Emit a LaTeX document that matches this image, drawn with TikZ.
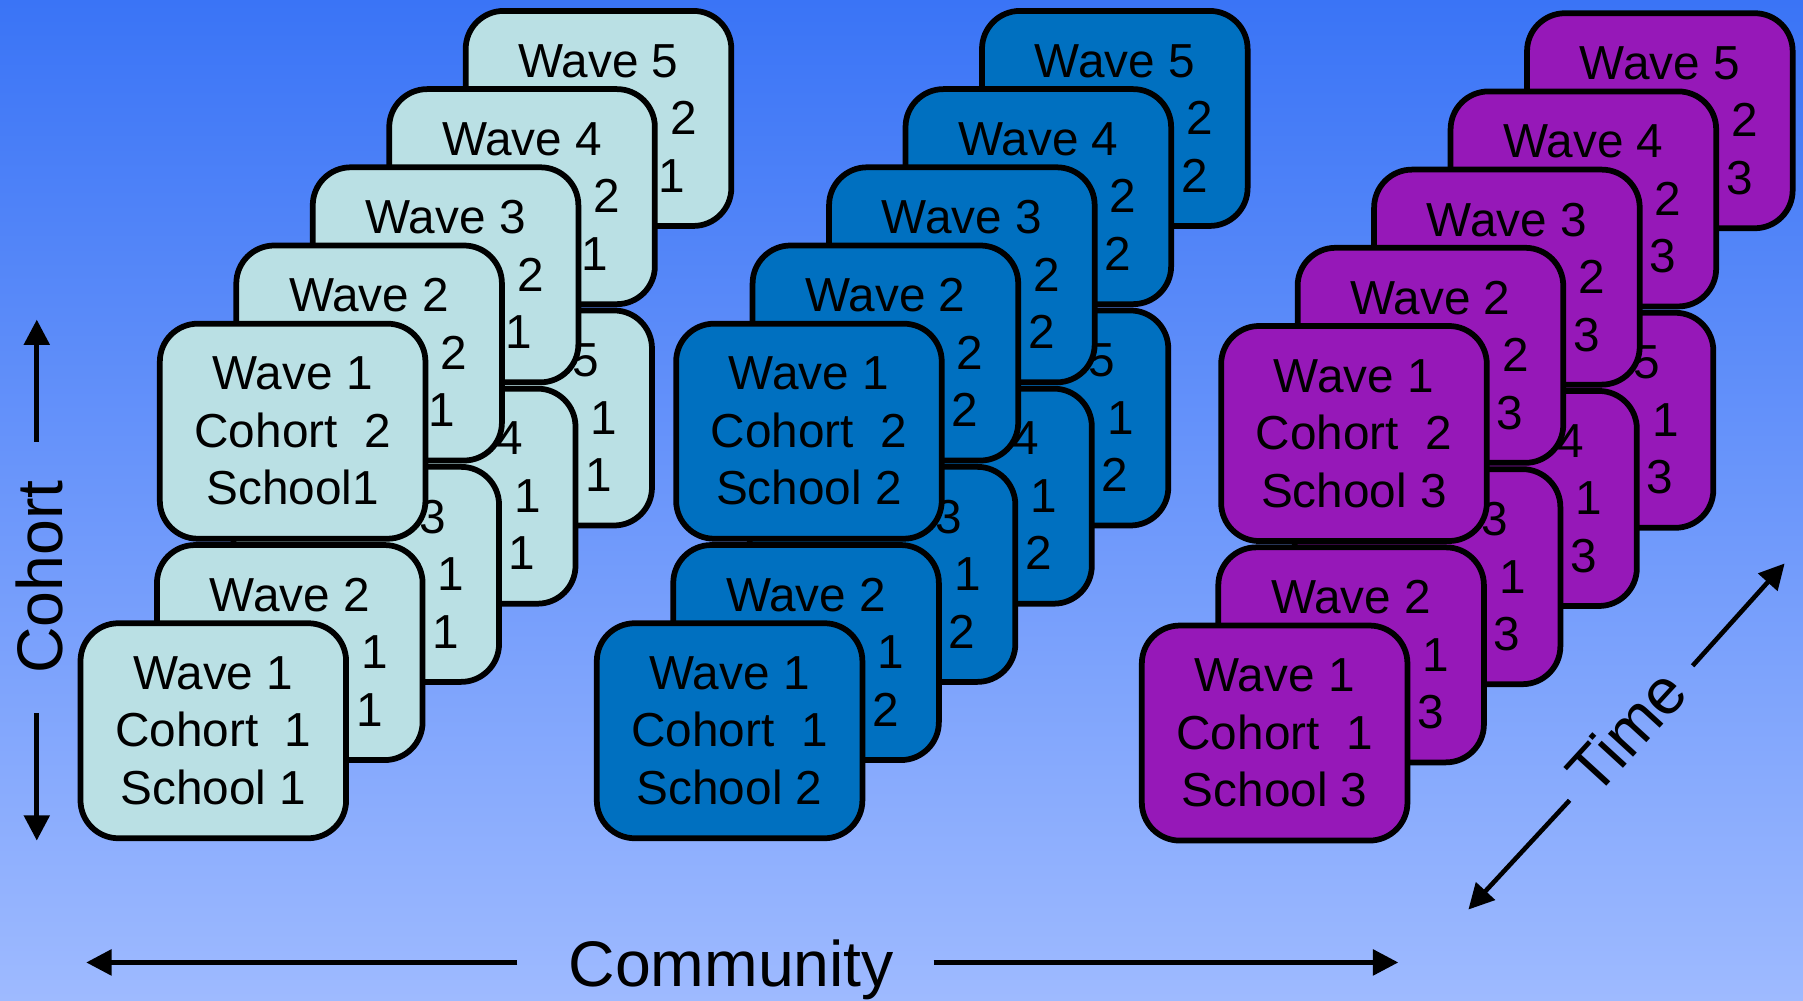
\documentclass[tikz,border=0pt]{standalone}
\usepackage{fontspec}
\setmainfont{Liberation Sans}
\usetikzlibrary{arrows.meta}
\definecolor{bgtop}{HTML}{3A74F6}
\definecolor{bgbot}{HTML}{9EBAFF}
\definecolor{cyanfill}{HTML}{BAE0E4}
\definecolor{bluefill}{HTML}{0070C0}
\definecolor{purplefill}{HTML}{9618B8}
\begin{document}
\begin{tikzpicture}[x=1pt,y=-1pt,
  card/.style={draw=black, line width=5pt, rounded corners=33pt,
    minimum width=231pt, minimum height=187pt, inner sep=0pt,
    align=center, font=\fontsize{41.5}{50}\selectfont},
  axisarrow/.style={line width=4pt, -{Triangle[length=22pt,width=22pt]}},
  axislabel/.style={inner sep=0pt, font=\fontsize{56}{60}\selectfont}]
\useasboundingbox (0,0) rectangle (1568,870);
\shade[top color=bgtop, bottom color=bgbot] (0,0) rectangle (1568,870);
% card stacks
\foreach \g/\gx/\gy/\col/\sa/\sb in {1/0/0/cyanfill/School 1/School1,
    2/449/0/bluefill/School 2/School 2,
    3/923/2/purplefill/School 3/School 3} {
  \foreach \w in {5,4,3,2,1} {
    \node[card, fill=\col] (g\g c1w\w) at ({\gx+68+66.5*(\w-1)+117.5}, {\gy+540-68*(\w-1)+95.5})
      {Wave \w\\Cohort\ \ 1\\\sa};
  }
  \foreach \w in {5,4,3,2,1} {
    \node[card, fill=\col] (g\g c2w\w) at ({\gx+137+66.5*(\w-1)+117.5}, {\gy+280-68*(\w-1)+95})
      {Wave \w\\Cohort\ \ 2\\\sb};
  }
}
% Cohort axis
\coordinate (cohUpS) at (32,384);
\coordinate (cohUpE) at (32,278);
\coordinate (cohDnS) at (32,620);
\coordinate (cohDnE) at (32,731);
\draw[axisarrow] (cohUpS) -- (cohUpE);
\draw[axisarrow] (cohDnS) -- (cohDnE);
\node[axislabel, rotate=90, anchor=base] (cohlab) at (54,502) {Cohort};
% Community axis
\coordinate (comLS) at (450,837);
\coordinate (comLE) at (75,837);
\coordinate (comRS) at (812,837);
\coordinate (comRE) at (1216,837);
\draw[axisarrow] (comLS) -- (comLE);
\draw[axisarrow] (comRS) -- (comRE);
\node[axislabel, anchor=base] (comlab) at (636,858) {Community};
% Time axis
\coordinate (tUpS) at (1472,579);
\coordinate (tUpE) at (1552,490);
\coordinate (tDnS) at (1365,696);
\coordinate (tDnE) at (1277,791);
\draw[axisarrow] (tUpS) -- (tUpE);
\draw[axisarrow] (tDnS) -- (tDnE);
\node[axislabel, rotate=47.5] (timelab) at (1414,636) {Time};
\end{tikzpicture}
\end{document}
